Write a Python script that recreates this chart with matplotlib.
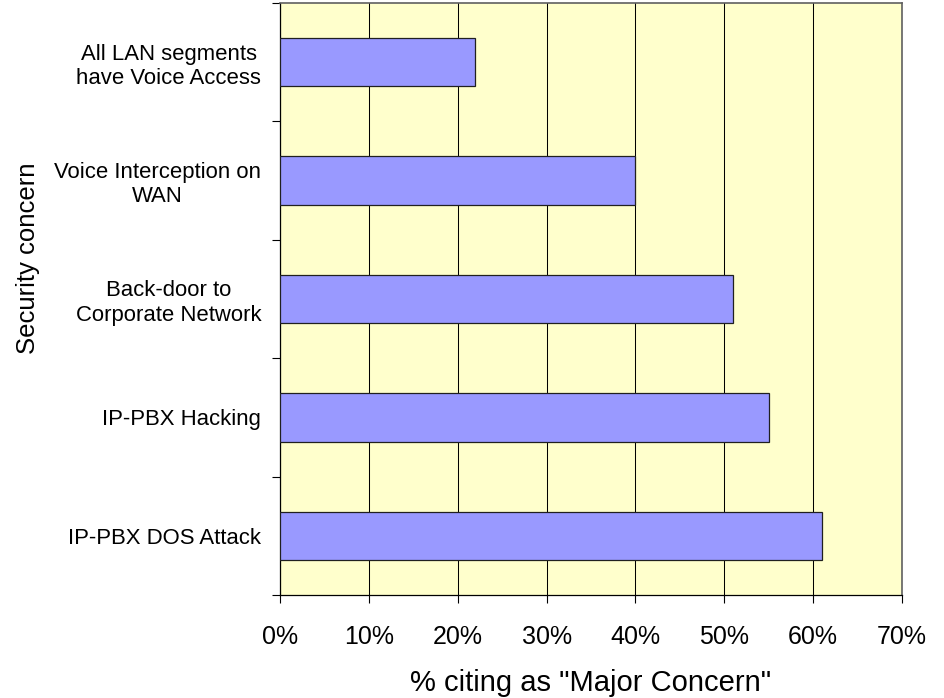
import matplotlib
matplotlib.use("Agg")
import matplotlib.pyplot as plt
import numpy as np

plt.rcParams['font.family'] = ['Liberation Sans', 'DejaVu Sans']

# Survey results, listed bottom to top
concerns = [
    "IP-PBX DOS Attack",
    "IP-PBX Hacking",
    "Back-door to\nCorporate Network",
    "Voice Interception on\nWAN",
    "All LAN segments\nhave Voice Access",
]
pct_major = [61, 55, 51, 40, 22]
x_ticks = [0, 10, 20, 30, 40, 50, 60, 70]
x_tick_labels = ["0%", "10%", "20%", "30%", "40%", "50%", "60%", "70%"]

fig = plt.figure(figsize=(9.45, 6.98), dpi=100)
ax = fig.add_axes([280 / 945, 1 - 595 / 698, 622 / 945, 592 / 698])
ax.set_facecolor("#FFFFCC")

y = np.arange(len(concerns))
ax.barh(y, pct_major, height=0.41, color="#9999FF", edgecolor="#202020",
        linewidth=0.9, zorder=3)

ax.set_xlim(0, 70)
ax.set_ylim(-0.5, len(concerns) - 0.5)

# vertical gridlines
ax.set_xticks(x_ticks)
ax.set_xticklabels(x_tick_labels, fontsize=18)
ax.xaxis.grid(True, color="black", linewidth=0.75, zorder=1)
ax.set_axisbelow(True)
ax.tick_params(axis="x", direction="out", length=6, width=0.8, pad=15.5)

# category boundaries as major ticks, names on minor ticks
ax.set_yticks(np.arange(-0.5, len(concerns), 1.0))
ax.set_yticklabels([])
ax.set_yticks(y, minor=True)
ax.set_yticklabels(concerns, minor=True, fontsize=15.9, multialignment="center")
ax.tick_params(axis="y", which="major", direction="out", length=5.5, width=0.8)
ax.tick_params(axis="y", which="minor", length=0, pad=13.5)

for side in ("left", "bottom"):
    ax.spines[side].set_color("black")
    ax.spines[side].set_linewidth(0.9)
for side in ("top", "right"):
    ax.spines[side].set_color("#606060")
    ax.spines[side].set_linewidth(1.2)

fig.text(591 / 945, 1 - 683 / 698, '% citing as "Major Concern"',
         ha="center", va="center", fontsize=21)
fig.text(28 / 945, 1 - 258 / 698, "Security concern", rotation=90,
         ha="center", va="center", fontsize=18.5)

fig.savefig("out.png", dpi=100, facecolor="white")
